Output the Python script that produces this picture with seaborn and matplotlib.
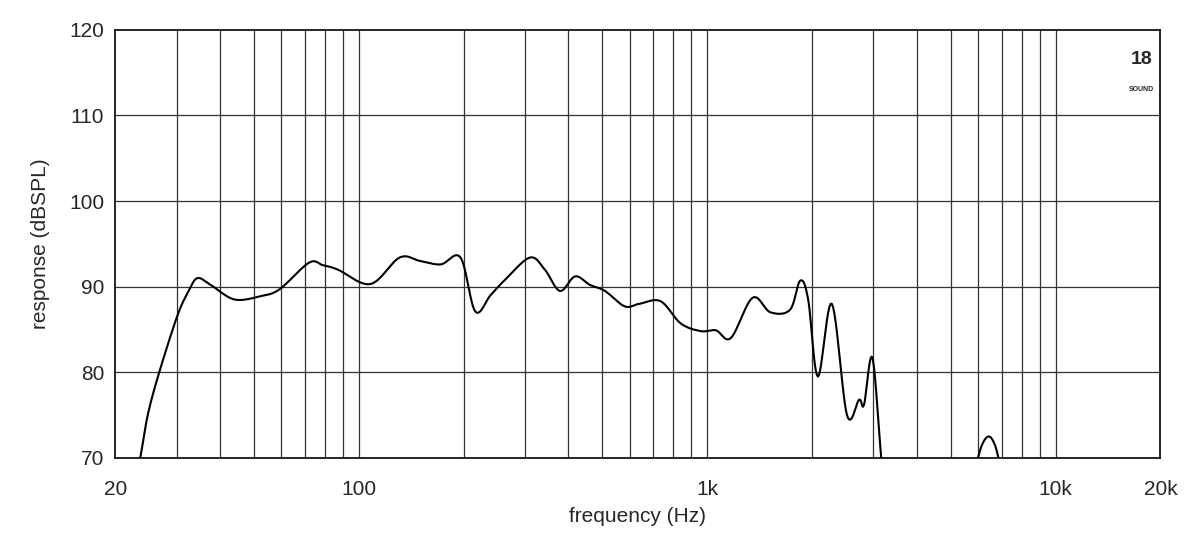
import numpy as np
import matplotlib
matplotlib.use("Agg")
import matplotlib.pyplot as plt
import seaborn as sns
from matplotlib.ticker import FixedLocator, NullFormatter

sns.set_style("white")
plt.rcParams['font.family'] = ['Liberation Sans', 'DejaVu Sans']

freq = [23.6, 25.3, 29.8, 32.6, 34.5, 37.6, 44.0, 52.4, 59.3, 72, 79, 87, 108, 131, 150, 172, 196,
        216, 239, 263, 310, 342, 378, 418, 461, 509, 580, 640, 735, 840, 960, 1060, 1170, 1350,
        1520, 1730, 1850, 1950, 2080, 2280, 2520, 2730, 2820, 2980, 3160]
spl = [70, 76.5, 86, 89.6, 91, 90.2, 88.5, 88.9, 89.7, 92.8, 92.5, 92, 90.3, 93.4, 93, 92.6, 93.4,
       87.1, 89, 90.8, 93.4, 92, 89.5, 91.2, 90.2, 89.5, 87.7, 88, 88.3, 85.7, 84.8, 84.9, 84, 88.7,
       87, 87.3, 90.7, 88.5, 79.5, 88, 75, 76.8, 76.2, 81.7, 70]
freq2 = [5900, 6150, 6430, 6700, 6950]
spl2 = [69, 71.5, 72.5, 71.5, 69]


def smooth(fx, fy, n=12):
    # Catmull-Rom through the read points, in log-frequency space (drawing only)
    x = np.log10(fx); y = np.asarray(fy, float)
    px = np.concatenate([[2 * x[0] - x[1]], x, [2 * x[-1] - x[-2]]])
    py = np.concatenate([[2 * y[0] - y[1]], y, [2 * y[-1] - y[-2]]])
    ox, oy = [], []
    t = np.linspace(0, 1, n, endpoint=False)
    for i in range(1, len(px) - 2):
        for arr, out in ((px, ox), (py, oy)):
            p0, p1, p2, p3 = arr[i - 1:i + 3]
            out.extend(0.5 * ((2 * p1) + (-p0 + p2) * t + (2 * p0 - 5 * p1 + 4 * p2 - p3) * t ** 2
                              + (-p0 + 3 * p1 - 3 * p2 + p3) * t ** 3))
    ox.append(x[-1]); oy.append(y[-1])
    return 10 ** np.array(ox), np.array(oy)


fig, ax = plt.subplots(figsize=(12, 5.33), dpi=100)
fig.subplots_adjust(left=0.096, right=0.967, top=0.944, bottom=0.141)
sx, sy = smooth(freq, spl)
sns.lineplot(x=sx, y=sy, ax=ax, color='black', lw=1.5, sort=False)
sx2, sy2 = smooth(freq2, spl2)
sns.lineplot(x=sx2, y=sy2, ax=ax, color='black', lw=1.5, sort=False)
ax.set_xscale('log')
ax.set_xlim(20, 20000)
ax.set_ylim(70, 120)
minors = [v * d for d in (10, 100, 1000) for v in range(2, 10)]
grid_x = sorted(set([f for f in minors if 20 < f < 20000] + [100, 1000, 10000]))
for gx in grid_x:
    ax.axvline(gx, color='#333333', lw=0.9, zorder=0)
for gy in range(80, 120, 10):
    ax.axhline(gy, color='#333333', lw=0.9, zorder=0)
ax.xaxis.set_major_locator(FixedLocator([20, 100, 1000, 10000, 20000]))
ax.set_xticklabels(['20', '100', '1k', '10k', '20k'])
ax.xaxis.set_minor_formatter(NullFormatter())
ax.set_yticks(range(70, 121, 10))
ax.tick_params(axis='x', labelsize=15, length=0, pad=16)
ax.tick_params(axis='y', labelsize=15, length=0, pad=8)
ax.set_xlabel('frequency (Hz)', fontsize=15, labelpad=6)
ax.set_ylabel('response (dBSPL)', fontsize=15, labelpad=14)
for s in ax.spines.values():
    s.set_color('black'); s.set_linewidth(1.2)
ax.text(0.982, 0.93, '18', transform=ax.transAxes, ha='center', va='center', fontsize=14, fontweight='bold')
ax.text(0.982, 0.86, 'SOUND', transform=ax.transAxes, ha='center', va='center', fontsize=5, fontweight='bold')
fig.savefig('out.png')
